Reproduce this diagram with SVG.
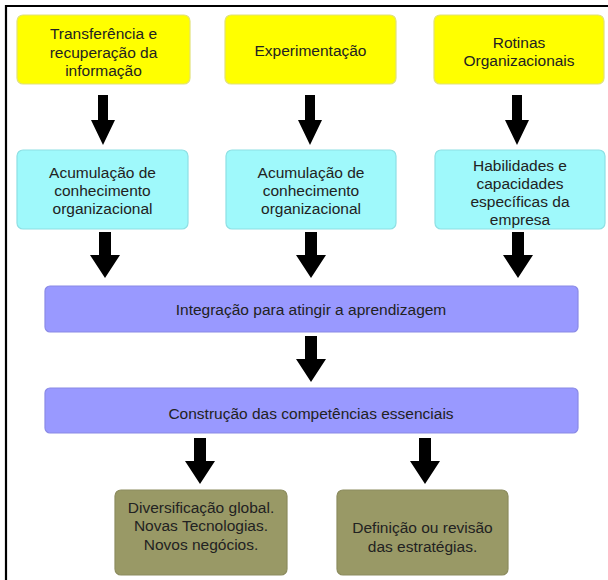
<svg xmlns="http://www.w3.org/2000/svg" width="608" height="580" viewBox="0 0 608 580">
<defs>
<style>
.t{font-family:"Liberation Sans",Arial,sans-serif;font-size:15.5px;fill:#222;text-anchor:middle;dominant-baseline:central}
.y{fill:#ffff00;stroke:#e2e27a;stroke-width:1.2}
.c{fill:#9ff9fb;stroke:#8ee0e4;stroke-width:1.2}
.p{fill:#9999ff;stroke:#8a8ae6;stroke-width:1.2}
.o{fill:#999966;stroke:#8c8c5e;stroke-width:1.2}
.a{fill:#000}
</style>
</defs>
<rect width="608" height="580" fill="#fff"/>
<path d="M6 580V6H608" fill="none" stroke="#000" stroke-width="2.2"/>
<g id="n1"><rect class="y" x="17" y="15" width="173" height="69" rx="6"/><text class="t" x="103.5" y="33">Transferência e</text><text class="t" x="103.5" y="52">recuperação da</text><text class="t" x="103.5" y="70">informação</text></g>
<g id="n2"><rect class="y" x="225" y="15" width="171" height="69" rx="6"/><text class="t" x="310.5" y="50">Experimentação</text></g>
<g id="n3"><rect class="y" x="434" y="15" width="170" height="69" rx="6"/><text class="t" x="519" y="42">Rotinas</text><text class="t" x="519" y="60">Organizacionais</text></g>
<g id="n4"><rect class="c" x="17" y="150" width="171" height="79" rx="6"/><text class="t" x="102.5" y="172">Acumulação de</text><text class="t" x="102.5" y="190">conhecimento</text><text class="t" x="102.5" y="208">organizacional</text></g>
<g id="n5"><rect class="c" x="226" y="150" width="170" height="79" rx="6"/><text class="t" x="311" y="172">Acumulação de</text><text class="t" x="311" y="190">conhecimento</text><text class="t" x="311" y="208">organizacional</text></g>
<g id="n6"><rect class="c" x="435" y="150" width="170" height="79" rx="6"/><text class="t" x="520" y="165">Habilidades e</text><text class="t" x="520" y="183">capacidades</text><text class="t" x="520" y="201">específicas da</text><text class="t" x="520" y="219">empresa</text></g>
<g id="n7"><rect class="p" x="45" y="286" width="533" height="46" rx="5"/><text class="t" x="311" y="309">Integração para atingir a aprendizagem</text></g>
<g id="n8"><rect class="p" x="45" y="388" width="533" height="45" rx="5"/><text class="t" x="311" y="413">Construção das competências essenciais</text></g>
<g id="n9"><rect class="o" x="115" y="490" width="172" height="85" rx="6"/><text class="t" x="201" y="507">Diversificação global.</text><text class="t" x="201" y="525">Novas Tecnologias.</text><text class="t" x="201" y="544">Novos negócios.</text></g>
<g id="n10"><rect class="o" x="337" y="490" width="171" height="85" rx="6"/><text class="t" x="422.5" y="527">Definição ou revisão</text><text class="t" x="422.5" y="546">das estratégias.</text></g>
<g id="connectors">
<polygon class="a" points="98,95 108,95 108,120 115,120 103,145 91,120 98,120"/>
<polygon class="a" points="305,95 315,95 315,120 322,120 310,145 298,120 305,120"/>
<polygon class="a" points="512,95 522,95 522,120 529,120 517,145 505,120 512,120"/>
<polygon class="a" points="99,232 111,232 111,255 120,255 105,278 90,255 99,255"/>
<polygon class="a" points="305,232 317,232 317,255 326,255 311,278 296,255 305,255"/>
<polygon class="a" points="512,232 524,232 524,255 533,255 518,278 503,255 512,255"/>
<polygon class="a" points="305,336 317,336 317,359 326,359 311,382 296,359 305,359"/>
<polygon class="a" points="194,438 206,438 206,461 215,461 200,484 185,461 194,461"/>
<polygon class="a" points="419,438 431,438 431,461 440,461 425,484 410,461 419,461"/>
</g>
</svg>
